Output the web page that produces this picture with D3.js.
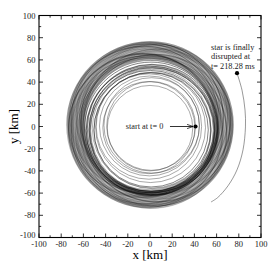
<!DOCTYPE html>
<html><head><meta charset="utf-8">
<script src="https://cdn.jsdelivr.net/npm/d3@7"></script>
<style>body{margin:0;background:#fff}svg{display:block}</style>
</head><body>
<script>
// ---- data (km) ----
const xTicks = [-100,-80,-60,-40,-20,0,20,40,60,80,100];
const yTicks = [-100,-80,-60,-40,-20,0,20,40,60,80,100];
// early, nearly circular orbits
const innerR  = [38.5, 40, 41.5, 43, 45, 47.5, 49.5];
const innerCx = [0, 1, -1, 1.5, -0.5, -1, 0.5];
const innerCy = [-1.5, 0.5, -1, 1, 0.5, 0, -1];
// dark ring of orbits
const midR  = [51.5, 52.5, 53.5, 54.5, 55.5, 56, 56.5, 57, 57.5, 58, 58.5, 59, 60, 61];
const midCx = [1, 2, 1.5, 0.5, 2, 1, 1.5, 2.5, 1, 0.5, 2, 1.5, 1, 0.5];
const midCy = [-3, -3.5, -2, -4, -3, -2.5, -3.5, -3, -2, -3.5, -2.5, -3, -2, -1.5];
// densely overlapping orbits: envelope of the grey band (inner, outer radius)
const bandEnvelope = [58, 75.5];
const bandCentre = [0, 1.5];
// precessing eccentric orbits forming the grey band
const bandPeri = [58,59,60,59.5,60.5,61,60,59,61.5,62,60.5,59.5,61,62.5,60,61,59,60.5,62,61.5,60,59.5,61,62,60.5,61.5,60,59,62,61,60.5,61.5,59.5,60,62.5,61,60,59.5,61,62,60.5,61,59.5,60,61.5,62,60.5,61];
const bandApo  = [71,72,73,74,74.5,75,73.5,72.5,74,75,74.5,73,72,74,75.5,74,73,74.5,75,73.5,72.5,74,75,74.5,73.5,74,75,73,72.5,74,75,74.5,73,74,75,73.5,72,74,74.5,75,73.5,74,75,73,74,74.5,75,73.5];
const bandOmega= [0,7,15,22,30,37,44,52,59,67,74,81,89,96,104,111,118,126,133,141,148,155,163,170,178,185,192,200,207,215,222,229,237,244,252,259,266,274,281,289,296,303,311,318,326,333,340,348];
// final escaping path up to disruption
const finalX = [55, 61, 70.3, 78.4, 83.8, 86, 85.6, 82.9, 78.4];
const finalY = [-68, -64, -53.4, -39, -21, -0.4, 14.8, 32.7, 48];
const startPt = [41, 0];
const endPt = [78.4, 48];

// ---- layout ----
const W = 269, H = 263;
const L = 39, R = 261, T = 15.5, B = 237.5;
const svg = d3.select("body").append("svg").attr("width", W).attr("height", H);
const x = d3.scaleLinear().domain([-100, 100]).range([L, R]);
const y = d3.scaleLinear().domain([-100, 100]).range([B, T]);
const font = "'Liberation Serif','Times New Roman',serif";

svg.append("clipPath").attr("id","c").append("rect")
  .attr("x",L).attr("y",T).attr("width",R-L).attr("height",B-T);
const plot = svg.append("g").attr("clip-path","url(#c)");

// grey envelope of the dense band
const arc = d3.arc().innerRadius(x(bandEnvelope[0])-x(0)).outerRadius(x(bandEnvelope[1])-x(0))
  .startAngle(0).endAngle(2*Math.PI);
plot.append("path").attr("d", arc()).attr("transform",`translate(${x(bandCentre[0])},${y(bandCentre[1])})`)
  .attr("fill","#b4b4b4");

function ring(cx, cy, rx, ry, rot, color, sw, op){
  const px = x(cx), py = y(cy);
  plot.append("ellipse").attr("cx",px).attr("cy",py)
    .attr("rx", x(rx)-x(0)).attr("ry", y(0)-y(ry))
    .attr("transform", `rotate(${-rot},${px},${py})`)
    .attr("fill","none").attr("stroke",color).attr("stroke-width",sw).attr("stroke-opacity",op);
}
// band
bandPeri.forEach((p,i)=>{
  const a=(p+bandApo[i])/2, c=(bandApo[i]-p)/2, b=Math.sqrt(p*bandApo[i]);
  const w = bandOmega[i]*Math.PI/180;
  ring(bandCentre[0]-c*Math.cos(w), bandCentre[1]-c*Math.sin(w), a, b, bandOmega[i], "#000", 0.45, 0.32);
});
midR.forEach((r,i)=> ring(midCx[i], midCy[i], r, r, 0, "#000", 0.5, i%3===0?0.95:0.6));
innerR.forEach((r,i)=> ring(innerCx[i], innerCy[i], r, r, 0, "#333", 0.5, 0.85));

const line = d3.line().x(d=>x(d[0])).y(d=>y(d[1])).curve(d3.curveCatmullRom);
plot.append("path").attr("d", line(finalX.map((v,i)=>[v, finalY[i]])))
  .attr("fill","none").attr("stroke","#333").attr("stroke-width",0.5);

// dots
[startPt, endPt].forEach(p=>svg.append("circle").attr("cx",x(p[0])).attr("cy",y(p[1])).attr("r",2.1).attr("fill","#000"));

// arrow
svg.append("defs").append("marker").attr("id","ah").attr("viewBox","0 0 10 10")
  .attr("refX",10).attr("refY",5).attr("markerWidth",6).attr("markerHeight",6)
  .attr("orient","auto").attr("markerUnits","userSpaceOnUse")
  .append("path").attr("d","M0,1.5 L10,5 L0,8.5").attr("fill","none").attr("stroke","#000").attr("stroke-width",1.2);
svg.append("line").attr("x1",x(18)).attr("x2",x(38.8)).attr("y1",y(0)).attr("y2",y(0))
  .attr("stroke","#000").attr("stroke-width",0.8).attr("marker-end","url(#ah)");
svg.append("text").attr("x",x(12)).attr("y",y(0)+2.5).attr("text-anchor","end")
  .attr("font-family",font).attr("font-size",8.3).attr("fill","#222").text("start at t= 0");
const ann = ["star is finally","disrupted at","t= 218.28 ms"];
svg.append("text").attr("font-family",font).attr("font-size",8.3).attr("fill","#222")
  .selectAll("tspan").data(ann).join("tspan")
  .attr("x",211).attr("y",(d,i)=>[49.5,58.5,68.5][i]).text(d=>d);

// frame
svg.append("rect").attr("x",L).attr("y",T).attr("width",R-L).attr("height",B-T)
  .attr("fill","none").attr("stroke","#000").attr("stroke-width",1.1);

// ticks (inward, all sides)
const minor = d3.range(-100,101,10);
const tk = svg.append("g").attr("stroke","#000").attr("stroke-width",0.8);
minor.forEach(v=>{
  const len = (v%20===0)?4:2.2;
  tk.append("line").attr("x1",x(v)).attr("x2",x(v)).attr("y1",B).attr("y2",B-len);
  tk.append("line").attr("x1",x(v)).attr("x2",x(v)).attr("y1",T).attr("y2",T+len);
  tk.append("line").attr("y1",y(v)).attr("y2",y(v)).attr("x1",L).attr("x2",L+len);
  tk.append("line").attr("y1",y(v)).attr("y2",y(v)).attr("x1",R).attr("x2",R-len);
});
svg.append("g").selectAll("text").data(xTicks).join("text")
  .attr("x",d=>x(d)).attr("y",B+9).attr("text-anchor","middle")
  .attr("font-family",font).attr("font-size",8.5).attr("fill","#222").text(d=>String(d));
svg.append("g").selectAll("text").data(yTicks).join("text")
  .attr("x",L-3.5).attr("y",d=>y(d)+(d===-100?0.5:3)).attr("text-anchor","end")
  .attr("font-family",font).attr("font-size",8.5).attr("fill","#222").text(d=>String(d));

svg.append("text").attr("x",x(0)).attr("y",259).attr("text-anchor","middle")
  .attr("font-family",font).attr("font-size",13).text("x [km]");
svg.append("text").attr("transform",`translate(18,${y(0)}) rotate(-90)`).attr("text-anchor","middle")
  .attr("font-family",font).attr("font-size",13).text("y [km]");
</script>
</body></html>
